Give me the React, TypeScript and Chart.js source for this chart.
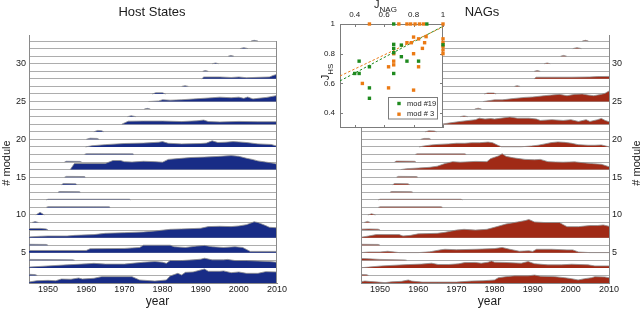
import React, { useEffect, useRef } from 'react';
import { Chart, registerables } from 'chart.js';

Chart.register(...registerables);

type Pt = [number, number];

// ---------- axes ----------
const YEAR_MIN = 1945;
const YEAR_MAX = 2010;
const YEAR_TICKS = [1950, 1960, 1970, 1980, 1990, 2000, 2010];
const MODULE_COUNT = 33;
const MODULE_LABEL_TICKS = [5, 10, 15, 20, 25, 30];
const J_MIN = 0.3;
const J_MAX = 1;
const J_TICKS = [0.4, 0.6, 0.8, 1];

// ---------- Host States: [year, height above module baseline] ----------
const HS_M01: Pt[] = [[1945, 0.13], [1947, 0.3], [1950, 0.35], [1952, 0.3], [1953.5, 0.53], [1956, 0.5], [1958, 0.66], [1959, 0.53], [1962, 0.62], [1964, 0.84], [1972, 0.84], [1974, 0.4], [1978, 0.26], [1981, 0.4], [1982, 0.93], [1984, 1.28], [1985, 1.06], [1986, 1.41], [1988, 1.46], [1990, 1.72], [1991, 1.85], [1992, 1.55], [1995, 1.55], [1996, 1.6], [1998, 1.37], [2000, 1.46], [2002, 1.28], [2005, 1.28], [2007, 1.5], [2010, 1.46]];
const HS_M02: Pt[] = [[1945, 0.15], [1946.5, 0.12], [1947.2, 0]];
const HS_M03: Pt[] = [[1945, 0.1], [1950, 0.26], [1955, 0.4], [1960, 0.53], [1962, 0.6], [1965, 0.5], [1970, 0.5], [1972, 0.6], [1975, 0.75], [1978, 0.84], [1980, 0.75], [1981, 0.6], [1982, 0.97], [1985, 0.97], [1988, 1.06], [1990, 1.15], [1991, 1.28], [1993, 1.06], [1996, 1.06], [1997, 1.12], [1999, 0.97], [2002, 0.97], [2005, 0.9], [2008, 0.84], [2010, 0.75]];
const HS_M04: Pt[] = [[1945, 0.12], [1950, 0.1], [1956.5, 0.06], [1957, 0]];
const HS_M05: Pt[] = [[1945, 0.3], [1960, 0.3], [1961, 0.53], [1970, 0.57], [1974, 0.7], [1975, 1.0], [1982, 1.0], [1983, 0.8], [1986, 0.7], [1989, 0.88], [1991, 0.97], [1993, 0.8], [1996, 0.7], [1999, 0.8], [2001, 0.7], [2003, 0.18], [2010, 0.18]];
const HS_M06: Pt[] = [[1945, 0.12], [1949.5, 0.1], [1950, 0]];
const HS_M07: Pt[] = [[1945, 0.1], [1948, 0.18], [1950, 0.22], [1955, 0.22], [1957, 0.3], [1962, 0.4], [1965, 0.57], [1970, 0.66], [1975, 0.75], [1978, 0.88], [1982, 1.1], [1985, 1.15], [1990, 1.24], [1992, 1.46], [1995, 1.5], [1998, 1.46], [2000, 1.55], [2002, 1.72], [2003, 1.9], [2004, 2.1], [2005, 2.0], [2007, 1.6], [2008, 1.37], [2010, 1.3]];
const HS_M08: Pt[] = [[1945, 0.2], [1948, 0.22], [1949.5, 0.15], [1950, 0]];
const HS_M09: Pt[] = [[1945.8, 0], [1946.6, 0.12], [1947.5, 0]];
const HS_M10: Pt[] = [[1946.8, 0], [1947.9, 0.35], [1949, 0]];
const HS_M11: Pt[] = [[1949.5, 0], [1950, 0.1], [1966, 0.08], [1966.3, 0]];
const HS_M12: Pt[] = [[1949.5, 0], [1950, 0.08], [1971.3, 0.08], [1971.6, 0]];
const HS_M13: Pt[] = [[1952.6, 0], [1953, 0.1], [1958.2, 0.08], [1958.5, 0]];
const HS_M14: Pt[] = [[1953.5, 0], [1954, 0.15], [1957.2, 0.12], [1957.6, 0]];
const HS_M15: Pt[] = [[1954.3, 0], [1954.8, 0.1], [1959.5, 0.08], [1959.8, 0]];
const HS_M16: Pt[] = [[1955.8, 0], [1956.9, 0.8], [1960, 0.8], [1965, 0.8], [1967, 1.2], [1969, 1.2], [1970, 1.05], [1972, 1.0], [1975, 1.1], [1978, 1.05], [1980, 0.98], [1981.5, 1.35], [1984, 1.45], [1987.5, 1.6], [1991, 1.65], [1995, 1.75], [1998, 1.85], [2000, 1.75], [2002, 1.5], [2003.5, 1.35], [2005, 1.15], [2007, 1.0], [2009, 0.85], [2010, 0.72]];
const HS_M17: Pt[] = [[1954.3, 0], [1954.8, 0.1], [1958.3, 0.08], [1958.8, 0]];
const HS_M18: Pt[] = [[1959.5, 0], [1960, 0.1], [1972.2, 0.08], [1972.5, 0]];
const HS_M19: Pt[] = [[1959.8, 0], [1961.5, 0.15], [1965, 0.3], [1970, 0.45], [1975, 0.5], [1979, 0.62], [1980, 0.7], [1981.5, 0.48], [1985, 0.4], [1990, 0.45], [1991.5, 0.5], [1993, 0.8], [1994.5, 0.58], [1996.5, 0.62], [1998.5, 0.7], [2000, 0.66], [2002, 0.58], [2005, 0.4], [2008.5, 0.32], [2010, 0.1]];
const HS_M20: Pt[] = [[1960, 0], [1961, 0.15], [1962.8, 0.12], [1963.4, 0]];
const HS_M21: Pt[] = [[1962, 0], [1963, 0.18], [1964, 0.15], [1964.6, 0]];
const HS_M22: Pt[] = [[1969.3, 0], [1971, 0.4], [1975, 0.42], [1980, 0.42], [1985, 0.35], [1989, 0.45], [1990.8, 0.55], [1992, 0.35], [1995, 0.3], [2000, 0.37], [2005, 0.33], [2010, 0.33]];
const HS_M23: Pt[] = [[1970.8, 0], [1971.8, 0.12], [1973, 0]];
const HS_M24: Pt[] = [[1975.2, 0], [1976, 0.1], [1976.8, 0]];
const HS_M25: Pt[] = [[1976.3, 0], [1979, 0.08], [1980, 0.24], [1982, 0.18], [1985, 0.24], [1989, 0.37], [1993, 0.5], [1995, 0.58], [1998, 0.5], [2000, 0.58], [2001.3, 0.42], [2002.3, 0.6], [2003.7, 0.35], [2005, 0.42], [2007.3, 0.55], [2010, 0.8]];
const HS_M26: Pt[] = [[1977.3, 0], [1978.2, 0.15], [1980, 0.15], [1980.8, 0]];
const HS_M27: Pt[] = [[1985, 0], [1985.9, 0.1], [1986.8, 0]];
const HS_M28: Pt[] = [[1990.3, 0], [1990.8, 0.25], [1995, 0.25], [1998, 0.18], [2000, 0.25], [2002, 0.15], [2005, 0.2], [2008, 0.25], [2009, 0.45], [2010, 0.6]];
const HS_M29: Pt[] = [[1990.5, 0], [1991.2, 0.1], [1992, 0]];
const HS_M30: Pt[] = [[1993, 0], [1993.9, 0.1], [1994.7, 0]];
const HS_M31: Pt[] = [[1997.2, 0], [1997.9, 0.1], [1998.7, 0]];
const HS_M32: Pt[] = [[2000.3, 0], [2001.3, 0.13], [2002.4, 0]];
const HS_M33: Pt[] = [[2003.2, 0], [2004, 0.1], [2005, 0]];

// ---------- NAGs: [year, height above module baseline] ----------
const NAG_M01: Pt[] = [[1945, 0.18], [1946, 0.26], [1948.7, 0.15], [1951.3, 0.05], [1953, 0.15], [1955.6, 0.22], [1957.4, 0.4], [1958.3, 0.25], [1961, 0.12], [1965, 0.12], [1970, 0.12], [1974, 0.26], [1977, 0.3], [1980, 0.4], [1981, 0.7], [1983, 0.84], [1985.3, 0.95], [1988.8, 0.95], [1990.5, 1.05], [1992, 0.9], [1995.8, 0.84], [1998.4, 0.7], [2000.2, 0.57], [2001.9, 0.4], [2003.6, 0.57], [2005.4, 0.7], [2006.3, 0.84], [2008.9, 0.8], [2010, 0.7]];
const NAG_M02: Pt[] = [[1945, 0.12], [1946.5, 0.1], [1947, 0]];
const NAG_M03: Pt[] = [[1945, 0.02], [1947, 0.1], [1950.4, 0.26], [1953.9, 0.35], [1957.4, 0.44], [1960.9, 0.5], [1963.5, 0.62], [1965.2, 0.45], [1968, 0.45], [1970.5, 0.53], [1972.2, 0.7], [1975, 0.72], [1976.5, 0.62], [1978.3, 0.75], [1979.2, 0.92], [1980, 0.75], [1982.7, 0.72], [1987, 0.62], [1988.8, 0.84], [1990.5, 0.55], [1994, 0.4], [1997.5, 0.4], [2000.2, 0.48], [2004.5, 0.4], [2006.3, 0.26], [2010, 0.26]];
const NAG_M04: Pt[] = [[1945, 0.25], [1947, 0.2], [1950, 0.12], [1956.5, 0.05], [1957, 0]];
const NAG_M05: Pt[] = [[1945, 0.02], [1947, 0.1], [1950, 0.1], [1952, 0.2], [1955, 0.02], [1960, 0.02], [1963, 0.12], [1966, 0.4], [1967, 0.46], [1970, 0.4], [1975, 0.46], [1980, 0.55], [1982, 0.7], [1984, 0.46], [1986.5, 0.2], [1989, 0.26], [1990, 0.18], [1991, 0.46], [1995, 0.46], [1999, 0.38], [2000.5, 0.38], [2002, 0.1], [2005, 0.02], [2010, 0.02]];
const NAG_M06: Pt[] = [[1945, 0.12], [1949.5, 0.1], [1950, 0]];
const NAG_M07: Pt[] = [[1945, 0.05], [1947, 0.22], [1949, 0.4], [1955, 0.4], [1956, 0.22], [1958, 0.3], [1960, 0.5], [1965, 0.57], [1967, 0.7], [1970, 1.0], [1972, 1.1], [1975, 1.0], [1978, 1.1], [1980, 1.37], [1983, 1.8], [1986, 2.07], [1988, 2.25], [1989, 2.4], [1990.5, 2.07], [1993, 2.0], [1997, 2.0], [1998, 1.72], [1999, 1.45], [2002, 1.45], [2003, 1.5], [2005, 1.6], [2007, 1.6], [2008.5, 1.68], [2010, 1.5]];
const NAG_M08: Pt[] = [[1945, 0.12], [1947, 0.15], [1949.5, 0.12], [1950, 0]];
const NAG_M09: Pt[] = [[1945.8, 0], [1946.7, 0.15], [1947.5, 0]];
const NAG_M10: Pt[] = [[1946.8, 0], [1947.8, 0.15], [1948.8, 0]];
const NAG_M11: Pt[] = [[1949.5, 0], [1950, 0.08], [1966, 0.08], [1966.4, 0]];
const NAG_M12: Pt[] = [[1949.5, 0], [1950, 0.08], [1971.2, 0.08], [1971.6, 0]];
const NAG_M13: Pt[] = [[1952.6, 0], [1953, 0.1], [1958.2, 0.08], [1958.6, 0]];
const NAG_M14: Pt[] = [[1953.3, 0], [1953.8, 0.15], [1957.3, 0.12], [1957.8, 0]];
const NAG_M15: Pt[] = [[1954.3, 0], [1954.8, 0.1], [1959.5, 0.08], [1959.9, 0]];
const NAG_M16: Pt[] = [[1955.4, 0], [1957, 0.12], [1960, 0.2], [1963, 0.3], [1965, 0.45], [1967, 0.8], [1969, 1.05], [1971, 0.98], [1975, 1.08], [1978, 1.05], [1979, 1.45], [1981, 1.8], [1982, 2.1], [1983, 1.75], [1985, 1.55], [1988, 1.35], [1990.5, 1.3], [1992, 1.35], [1994, 1.05], [1996, 1.0], [1998, 0.98], [2001, 1.02], [2003, 0.92], [2006, 0.78], [2008, 0.7], [2010, 0.38]];
const NAG_M17: Pt[] = [[1953.8, 0], [1954.3, 0.12], [1959, 0.1], [1959.4, 0]];
const NAG_M18: Pt[] = [[1959.2, 0], [1959.7, 0.08], [1972.2, 0.08], [1972.6, 0]];
const NAG_M19: Pt[] = [[1960.2, 0], [1961.5, 0.12], [1963.5, 0.26], [1965.2, 0.33], [1968, 0.4], [1970, 0.48], [1972.2, 0.48], [1974, 0.55], [1976, 0.55], [1978.3, 0.64], [1979.5, 0.55], [1981, 0.18], [1981.8, 0.02], [1987, 0.02], [1989.7, 0.12], [1991.4, 0.22], [1993.2, 0.4], [1994.9, 0.57], [1996.6, 0.66], [1998.4, 0.6], [2000.2, 0.48], [2001.9, 0.3], [2004.5, 0.22], [2006.3, 0.22], [2008, 0.26], [2009.7, 0.05], [2010, 0]];
const NAG_M20: Pt[] = [[1960.6, 0], [1961.6, 0.12], [1962.8, 0.12], [1963.3, 0]];
const NAG_M21: Pt[] = [[1961.8, 0], [1962.8, 0.12], [1964.2, 0.1], [1964.8, 0]];
const NAG_M22: Pt[] = [[1966, 0], [1968, 0.15], [1971, 0.37], [1975, 0.6], [1976, 0.8], [1977.5, 0.68], [1979, 0.75], [1980, 0.68], [1981, 0.75], [1984, 0.95], [1986, 0.8], [1989, 0.8], [1991, 0.68], [1992, 0.5], [1995, 0.6], [1998, 0.5], [2000, 0.6], [2002, 0.37], [2004, 0.6], [2005, 0.37], [2007, 0.6], [2008, 0.77], [2009, 0.5], [2010, 0.33]];
const NAG_M23: Pt[] = [[1971, 0], [1972, 0.1], [1973, 0]];
const NAG_M24: Pt[] = [[1974.8, 0], [1975.7, 0.12], [1976.6, 0]];
const NAG_M25: Pt[] = [[1977, 0], [1980, 0.22], [1982, 0.22], [1985, 0.4], [1988, 0.55], [1990, 0.6], [1993, 0.77], [1995, 0.86], [1997, 0.95], [1999, 0.77], [2001, 0.95], [2003, 1.0], [2004.5, 0.86], [2006, 0.77], [2008, 0.95], [2009, 1.1], [2010, 1.4]];
const NAG_M26: Pt[] = [[1977.3, 0], [1978.2, 0.13], [1979.8, 0.12], [1980.4, 0]];
const NAG_M27: Pt[] = [[1985.2, 0], [1985.9, 0.1], [1986.7, 0]];
const NAG_M28: Pt[] = [[1990.4, 0], [1990.9, 0.22], [1995, 0.22], [2000, 0.22], [2005, 0.25], [2007, 0.3], [2010, 0.32]];
const NAG_M29: Pt[] = [[1990.4, 0], [1991.2, 0.1], [1992, 0]];
const NAG_M30: Pt[] = [[1993, 0], [1993.8, 0.1], [1994.6, 0]];
const NAG_M31: Pt[] = [[1997.3, 0], [1998.1, 0.1], [1998.9, 0]];
const NAG_M32: Pt[] = [[2000.5, 0], [2001.6, 0.13], [2002.8, 0]];
const NAG_M33: Pt[] = [[2003, 0], [2003.8, 0.1], [2004.6, 0]];

const HOST_MODULES: Pt[][] = [HS_M01, HS_M02, HS_M03, HS_M04, HS_M05, HS_M06, HS_M07, HS_M08, HS_M09, HS_M10, HS_M11, HS_M12, HS_M13, HS_M14, HS_M15, HS_M16, HS_M17, HS_M18, HS_M19, HS_M20, HS_M21, HS_M22, HS_M23, HS_M24, HS_M25, HS_M26, HS_M27, HS_M28, HS_M29, HS_M30, HS_M31, HS_M32, HS_M33];
const NAG_MODULES: Pt[][] = [NAG_M01, NAG_M02, NAG_M03, NAG_M04, NAG_M05, NAG_M06, NAG_M07, NAG_M08, NAG_M09, NAG_M10, NAG_M11, NAG_M12, NAG_M13, NAG_M14, NAG_M15, NAG_M16, NAG_M17, NAG_M18, NAG_M19, NAG_M20, NAG_M21, NAG_M22, NAG_M23, NAG_M24, NAG_M25, NAG_M26, NAG_M27, NAG_M28, NAG_M29, NAG_M30, NAG_M31, NAG_M32, NAG_M33];

// ---------- inset: [J_NAG, J_HS] ----------
const MOD19_LABEL = 'mod #19';
const MOD3_LABEL = 'mod # 3';
const MOD19_POINTS: Pt[] = [[0.4, 0.667], [0.43, 0.667], [0.43, 0.75], [0.5, 0.712], [0.5, 0.57], [0.5, 0.5], [0.665, 0.863], [0.665, 0.836], [0.665, 0.807], [0.665, 0.667], [0.717, 0.858], [0.717, 0.78], [0.755, 0.75], [0.834, 0.75], [0.665, 1.0], [0.89, 1.0], [1.0, 0.86]];
const MOD3_POINTS: Pt[] = [[0.5, 1], [0.7, 1], [0.755, 1], [0.78, 1], [0.81, 1], [0.84, 1], [0.867, 1], [1, 1], [1, 0.9], [1, 0.875], [1, 0.85], [1, 0.825], [1, 0.8], [0.452, 0.6], [0.63, 0.712], [0.63, 0.57], [0.665, 0.8], [0.665, 0.75], [0.665, 0.725], [0.755, 0.874], [0.785, 0.874], [0.8, 0.912], [0.8, 0.8], [0.8, 0.555], [0.834, 0.9], [0.86, 0.836], [0.875, 0.874], [0.885, 0.915], [0.834, 0.712]];
const MOD19_FIT: Pt[] = [[0.3, 0.617], [1.0, 0.985]];
const MOD3_FIT: Pt[] = [[0.3, 0.65], [1.0, 0.98]];

// ---------- styles ----------
const FONT = '"Liberation Sans", Arial, Helvetica, sans-serif';
const BLUE = '#182c86';
const RED = '#a02a16';
const GREEN = '#1f8a1f';
const ORANGE = '#eb7a14';
const GRID = '#adadad';
const AXIS = '#8a8a8a';
const EDGE = '#8f8f8f';
const TEXT = '#1a1a1a';

Chart.defaults.font.family = FONT;

const panelTextPlugin = {
  id: 'panelText',
  afterDraw(chart: any, _args: any, opts: any) {
    const { ctx, chartArea, scales } = chart;
    const cx = (chartArea.left + chartArea.right) / 2;
    ctx.save();
    ctx.fillStyle = TEXT;
    ctx.textAlign = 'center';
    ctx.textBaseline = 'alphabetic';
    ctx.font = `13px ${FONT}`;
    ctx.fillText(opts.title, cx + opts.titleDx, 16);
    ctx.font = `12px ${FONT}`;
    ctx.fillText('year', cx + 4.5, 304.5);
    ctx.translate(opts.moduleX, 163);
    ctx.rotate(-Math.PI / 2);
    ctx.font = `11px ${FONT}`;
    ctx.fillText('# module', 0, 0);
    ctx.restore();

    const yTop = scales.y.getPixelForValue(MODULE_COUNT);
    const x = Math.round(opts.frameSide === 'right' ? chartArea.right : chartArea.left) + (opts.frameSide === 'right' ? -0.5 : 0.5);
    ctx.save();
    ctx.strokeStyle = AXIS;
    ctx.lineWidth = 1;
    ctx.beginPath();
    ctx.moveTo(x, yTop);
    ctx.lineTo(x, chartArea.bottom);
    ctx.stroke();
    ctx.restore();
  },
};

function ridgeConfig(modules: Pt[][], color: string, title: string, side: 'left' | 'right') {
  const datasets = modules.map((pts, i) => {
    const base = i + 1;
    return {
      label: `module ${base}`,
      data: pts.map(([x, h]) => ({ x, y: base + h })),
      fill: { value: base },
      backgroundColor: color,
      borderColor: EDGE,
      borderWidth: 0.8,
      pointRadius: 0,
      pointHoverRadius: 0,
      tension: 0,
    };
  });
  const isLeft = side === 'left';
  return {
    type: 'line',
    data: { datasets },
    options: {
      responsive: false,
      animation: false,
      events: [],
      layout: { padding: isLeft ? { left: 0, right: 23, top: 35, bottom: 0 } : { left: 41, right: 0, top: 35, bottom: 0 } },
      plugins: {
        legend: { display: false },
        tooltip: { enabled: false },
        panelText: {
          title,
          titleDx: isLeft ? -1 : -3,
          moduleX: isLeft ? 9.5 : 319.5,
          frameSide: isLeft ? 'right' : 'left',
        },
      },
      scales: {
        x: {
          type: 'linear',
          min: YEAR_MIN,
          max: YEAR_MAX,
          afterBuildTicks: (s: any) => {
            s.ticks = YEAR_TICKS.map((v) => ({ value: v }));
          },
          afterFit: (s: any) => {
            s.height = 27;
            s.paddingLeft = 0;
            s.paddingRight = 0;
          },
          grid: { display: false, drawTicks: false },
          border: { display: true, color: AXIS, width: 1 },
          ticks: { padding: 1, color: TEXT, font: { size: 9 }, maxRotation: 0, autoSkip: false, callback: (v: number) => String(v) },
        },
        y: {
          type: 'linear',
          position: side,
          min: 1,
          max: 33.8,
          afterBuildTicks: (s: any) => {
            s.ticks = Array.from({ length: MODULE_COUNT }, (_, i) => ({ value: i + 1 }));
          },
          afterFit: (s: any) => {
            s.width = isLeft ? 29 : 31;
            s.paddingTop = 0;
            s.paddingBottom = 0;
          },
          grid: { color: GRID, lineWidth: 1, drawTicks: false },
          border: { display: true, color: AXIS, width: 1 },
          ticks: {
            padding: 3,
            autoSkip: false,
            color: TEXT,
            font: { size: 9 },
            callback: (v: number) => (MODULE_LABEL_TICKS.includes(v) ? String(v) : ''),
          },
        },
      },
    },
    plugins: [panelTextPlugin],
  };
}

const insetPlugin = {
  id: 'insetDecor',
  beforeDraw(chart: any) {
    const { ctx, chartArea: a } = chart;
    ctx.save();
    ctx.fillStyle = '#ffffff';
    ctx.fillRect(a.left, a.top, a.right - a.left, a.bottom - a.top);
    ctx.restore();
  },
  beforeDatasetsDraw(chart: any) {
    const { ctx, chartArea: a, scales } = chart;
    ctx.save();
    ctx.strokeStyle = '#7c7c7c';
    ctx.lineWidth = 1;
    ctx.strokeRect(a.left + 0.5, a.top + 0.5, a.right - a.left - 1, a.bottom - a.top - 1);
    ctx.beginPath();
    J_TICKS.forEach((v) => {
      const x = Math.round(scales.x.getPixelForValue(v)) + 0.5;
      ctx.moveTo(x, a.top);
      ctx.lineTo(x, a.top + 3);
      ctx.moveTo(x, a.bottom);
      ctx.lineTo(x, a.bottom - 3);
      const y = Math.round(scales.y.getPixelForValue(v)) + 0.5;
      ctx.moveTo(a.left, y);
      ctx.lineTo(a.left + 3, y);
      ctx.moveTo(a.right, y);
      ctx.lineTo(a.right - 3, y);
    });
    ctx.stroke();
    ctx.restore();
  },
  afterDraw(chart: any) {
    const { ctx, chartArea: a } = chart;
    ctx.save();
    // legend box
    const bw = 49;
    const bh = 21.5;
    const bx = Math.round(a.right - 55);
    const by = Math.round(a.bottom - 31);
    ctx.fillStyle = '#ffffff';
    ctx.fillRect(bx, by, bw, bh);
    ctx.strokeStyle = '#7c7c7c';
    ctx.lineWidth = 1;
    ctx.strokeRect(bx + 0.5, by + 0.5, bw, bh);
    const ds = chart.data.datasets;
    [0, 1].forEach((i) => {
      const cy = by + 6.5 + i * 10.7;
      ctx.fillStyle = ds[i].backgroundColor;
      ctx.fillRect(bx + 11 - 1.7, cy - 1.7, 3.4, 3.4);
      ctx.fillStyle = TEXT;
      ctx.font = `7.5px ${FONT}`;
      ctx.textAlign = 'left';
      ctx.textBaseline = 'middle';
      ctx.fillText(ds[i].label, bx + 19, cy);
    });

    ctx.fillStyle = TEXT;
    ctx.textBaseline = 'alphabetic';
    ctx.textAlign = 'left';
    // J_NAG (top)
    {
      ctx.font = `11px ${FONT}`;
      const wJ = ctx.measureText('J').width;
      ctx.font = `8px ${FONT}`;
      const wS = ctx.measureText('NAG').width;
      const start = (a.left + a.right) / 2 - 6 - (wJ + wS) / 2;
      ctx.font = `11px ${FONT}`;
      ctx.fillText('J', start, 7.5);
      ctx.font = `8px ${FONT}`;
      ctx.fillText('NAG', start + wJ, 11.5);
    }
    // J_HS (left, rotated)
    {
      ctx.translate(a.left - 11, (a.top + a.bottom) / 2 - 4);
      ctx.rotate(-Math.PI / 2);
      ctx.font = `11px ${FONT}`;
      const wJ = ctx.measureText('J').width;
      ctx.font = `8px ${FONT}`;
      const wS = ctx.measureText('HS').width;
      const start = -(wJ + wS) / 2;
      ctx.font = `11px ${FONT}`;
      ctx.fillText('J', start, 0);
      ctx.font = `8px ${FONT}`;
      ctx.fillText('HS', start + wJ, 3.5);
    }
    ctx.restore();
  },
};

function insetConfig() {
  const toXY = (pts: Pt[]) => pts.map(([x, y]) => ({ x, y }));
  const jAxisCommon = {
    type: 'linear',
    min: J_MIN,
    max: J_MAX,
    afterBuildTicks: (s: any) => {
      s.ticks = J_TICKS.map((v) => ({ value: v }));
    },
    grid: { display: false, drawTicks: false },
    border: { display: false },
  };
  const fmt = (v: number) => (v === 1 ? '1' : v.toFixed(1));
  return {
    type: 'scatter',
    data: {
      datasets: [
        { label: MOD19_LABEL, data: toXY(MOD19_POINTS), backgroundColor: GREEN, borderWidth: 0, pointStyle: 'rect', pointRadius: 2.4, clip: false },
        { label: MOD3_LABEL, data: toXY(MOD3_POINTS), backgroundColor: ORANGE, borderWidth: 0, pointStyle: 'rect', pointRadius: 2.4, clip: false },
        { label: 'fit #19', data: toXY(MOD19_FIT), showLine: true, borderColor: GREEN, backgroundColor: GREEN, borderDash: [2.5, 2], borderWidth: 1, pointRadius: 0 },
        { label: 'fit # 3', data: toXY(MOD3_FIT), showLine: true, borderColor: ORANGE, backgroundColor: ORANGE, borderDash: [2.5, 2], borderWidth: 1, pointRadius: 0 },
      ],
    },
    options: {
      responsive: false,
      animation: false,
      events: [],
      layout: { padding: { left: 0, top: 0, right: 7, bottom: 6 } },
      plugins: { legend: { display: false }, tooltip: { enabled: false } },
      scales: {
        x: {
          ...jAxisCommon,
          position: 'top',
          afterFit: (s: any) => {
            s.height = 24;
            s.paddingLeft = 0;
            s.paddingRight = 0;
          },
          ticks: { padding: 4, color: TEXT, font: { size: 8 }, maxRotation: 0, autoSkip: false, callback: fmt },
        },
        y: {
          ...jAxisCommon,
          position: 'left',
          afterFit: (s: any) => {
            s.width = 24;
            s.paddingTop = 0;
            s.paddingBottom = 0;
          },
          ticks: { padding: 5, color: TEXT, font: { size: 8 }, autoSkip: false, callback: fmt },
        },
      },
    },
    plugins: [insetPlugin],
  };
}

function ChartCanvas(props: { make: () => any; left: number; top: number; width: number; height: number; z: number }) {
  const ref = useRef<HTMLCanvasElement | null>(null);
  useEffect(() => {
    if (!ref.current) return;
    const chart = new Chart(ref.current, props.make());
    return () => chart.destroy();
  }, []);
  return (
    <canvas
      ref={ref}
      width={props.width}
      height={props.height}
      style={{ position: 'absolute', left: props.left, top: props.top, width: props.width, height: props.height, zIndex: props.z }}
    />
  );
}

export default function App() {
  return (
    <div style={{ position: 'fixed', left: 0, top: 0, width: 640, height: 310, background: '#ffffff', overflow: 'hidden' }}>
      <ChartCanvas make={() => ridgeConfig(HOST_MODULES, BLUE, 'Host States', 'left')} left={0} top={0} width={300} height={310} z={1} />
      <ChartCanvas make={() => ridgeConfig(NAG_MODULES, RED, 'NAGs', 'right')} left={320} top={0} width={320} height={310} z={2} />
      <ChartCanvas make={insetConfig} left={316} top={0} width={134} height={134} z={3} />
    </div>
  );
}
